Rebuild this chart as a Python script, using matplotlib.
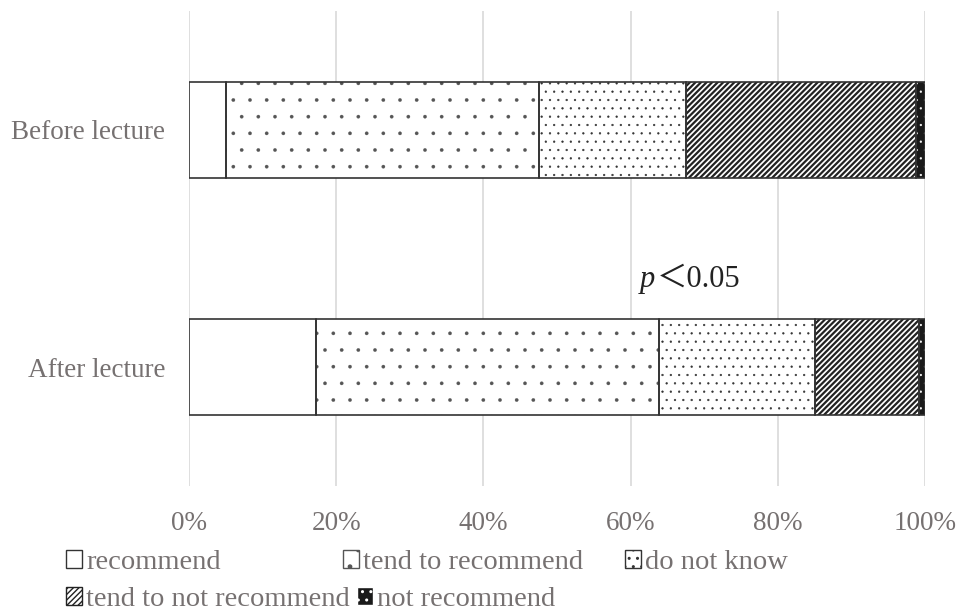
import matplotlib
matplotlib.use("Agg")
import matplotlib.pyplot as plt
from matplotlib.patches import Patch
import numpy as np

categories = ["After lecture", "Before lecture"]
series_names = ["recommend", "tend to recommend", "do not know",
                "tend to not recommend", "not recommend"]
values = {
    "recommend":             [17.3, 5.0],
    "tend to recommend":     [46.5, 42.5],
    "do not know":           [21.2, 20.0],
    "tend to not recommend": [14.2, 31.3],
    "not recommend":         [0.8, 1.2],
}
xticks = [0, 20, 40, 60, 80, 100]
xtick_labels = ["0%", "20%", "40%", "60%", "80%", "100%"]

styles = {
    "recommend":             dict(face="white", hatch="", hcolor="#333333", hlw=0.5),
    "tend to recommend":     dict(face="white", hatch=".", hcolor="#555555", hlw=0.2),
    "do not know":           dict(face="white", hatch="..", hcolor="#333333", hlw=0.4),
    "tend to not recommend": dict(face="white", hatch="//////", hcolor="#222222", hlw=1.6),
    "not recommend":         dict(face="#1a1a1a", hatch="..", hcolor="white", hlw=0.4),
}
# legend entry anchor positions in pixels (layout only)
legend_pos = {
    "recommend": (66, 550),
    "tend to recommend": (343, 550),
    "do not know": (625, 550),
    "tend to not recommend": (66, 587),
    "not recommend": (357, 587),
}

plt.rcParams["font.family"] = ["Liberation Serif", "Noto Sans CJK JP", "DejaVu Sans"]

fig = plt.figure(figsize=(9.58, 6.16), dpi=100)
ax = fig.add_axes([189/958, 1-486/616, (925-189)/958, (486-11)/616])

y = np.arange(len(categories))
left = np.zeros(len(categories))
bar_h = 0.405
handles = {}
for name in series_names:
    st = styles[name]
    v = np.array(values[name])
    with plt.rc_context({"hatch.linewidth": st["hlw"]}):
        ax.barh(y, v, left=left, height=bar_h, color=st["face"], edgecolor=st["hcolor"],
                hatch=st["hatch"], linewidth=0, zorder=2)
        handles[name] = Patch(facecolor=st["face"],
                              edgecolor=st["hcolor"] if st["hatch"] else "#333333",
                              hatch=st["hatch"], linewidth=1.0)
    ax.barh(y, v, left=left, height=bar_h, color="none", edgecolor="#333333",
            linewidth=1.2, zorder=3)
    left += v

ax.set_xlim(0, 100)
ax.set_ylim(-0.5, 1.5)
ax.set_xticks(xticks)
ax.set_xticklabels(xtick_labels)
ax.set_yticks(y)
ax.set_yticklabels(categories)
ax.tick_params(axis="both", length=0, labelsize=19.5, labelcolor="#767171")
ax.tick_params(axis="x", pad=18)
ax.tick_params(axis="y", pad=17)
ax.grid(axis="x", color="#d9d9d9", linewidth=1.2, zorder=0)
ax.set_axisbelow(True)
for s in ax.spines.values():
    s.set_visible(False)

ax.text(61.3, 0.37, "p", fontsize=22, style="italic", color="#222222",
        va="center", ha="left", family=["Liberation Serif"])
ax.text(63.6, 0.37, "＜0.05", fontsize=22, color="#222222", va="center", ha="left",
        family=["Liberation Serif", "Noto Sans CJK JP"])

for name in series_names:
    px, py = legend_pos[name]
    fig.legend([handles[name]], [name], loc="upper left",
               bbox_to_anchor=(px/958, 1-py/616), frameon=False,
               fontsize=20.5, labelcolor="#767171", handlelength=0.55, handleheight=0.55,
               handletextpad=0.15, borderaxespad=0, borderpad=0)

fig.savefig("out.png", dpi=100)
